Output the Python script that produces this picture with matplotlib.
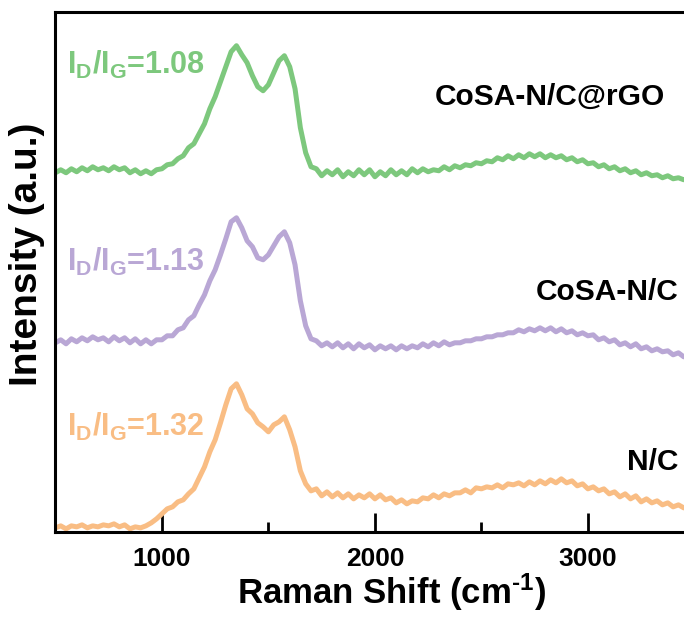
import numpy as np
import matplotlib
matplotlib.use('Agg')
import matplotlib.pyplot as plt
from matplotlib.ticker import MultipleLocator

plt.rcParams['font.family'] = ['Liberation Sans', 'DejaVu Sans']
plt.rcParams['font.weight'] = 'bold'
plt.rcParams['mathtext.fontset'] = 'custom'
plt.rcParams['mathtext.rm'] = 'Liberation Sans:bold'
plt.rcParams['mathtext.it'] = 'Liberation Sans:bold'
plt.rcParams['mathtext.bf'] = 'Liberation Sans:bold'

# Raman spectra sampled every 25 cm-1 from 500, already stacked with offsets
start, step = 500, 25

rgo = [359, 362, 359, 363, 360, 364, 361, 365, 362, 364, 361, 365, 362, 364, 359, 362, 358, 361, 358, 362,
       363, 367, 368, 373, 376, 384, 388, 398, 408, 423, 435, 450, 465, 480, 486, 477, 469, 456, 445, 441,
       447, 459, 471, 476, 465, 443, 404, 379, 365, 363, 356, 361, 357, 362, 355, 360, 356, 362, 357, 362,
       355, 360, 356, 362, 357, 361, 357, 363, 359, 363, 360, 362, 361, 365, 362, 366, 364, 367, 366, 369,
       368, 371, 370, 374, 372, 376, 373, 377, 374, 378, 375, 378, 374, 377, 374, 376, 372, 374, 370, 372,
       368, 369, 365, 367, 363, 365, 361, 363, 359, 361, 357, 359, 356, 357, 354, 356, 353, 354, 352, 353]

cosa = [189, 192, 188, 193, 190, 194, 191, 195, 192, 194, 190, 195, 191, 194, 189, 193, 188, 192, 188, 192,
        192, 196, 196, 202, 204, 212, 216, 227, 237, 251, 262, 277, 293, 310, 314, 304, 291, 285, 274, 272,
        277, 286, 295, 300, 289, 267, 231, 206, 193, 191, 186, 189, 185, 189, 184, 188, 183, 188, 184, 187,
        182, 186, 183, 186, 182, 186, 183, 186, 184, 188, 185, 189, 186, 190, 187, 189, 189, 191, 191, 193,
        193, 195, 195, 197, 197, 199, 199, 202, 200, 203, 201, 204, 201, 204, 200, 203, 199, 201, 197, 199,
        196, 197, 192, 194, 190, 192, 187, 189, 185, 188, 183, 185, 181, 183, 180, 181, 177, 179, 175, 176]

nc = [4, 6, 3, 6, 5, 7, 4, 6, 5, 7, 6, 8, 5, 7, 3, 5, 4, 6, 9, 13,
      18, 23, 25, 30, 32, 38, 43, 54, 65, 80, 92, 109, 127, 143, 148, 137, 123, 118, 109, 105,
      100, 107, 110, 115, 102, 85, 61, 48, 41, 43, 36, 40, 35, 39, 34, 38, 33, 37, 34, 38,
      33, 37, 32, 34, 29, 32, 28, 31, 30, 34, 33, 37, 34, 38, 36, 39, 39, 42, 39, 44,
      43, 45, 44, 47, 44, 48, 47, 49, 46, 50, 47, 51, 48, 52, 49, 53, 49, 51, 46, 48,
      43, 45, 41, 43, 38, 40, 35, 38, 33, 36, 30, 33, 29, 31, 27, 29, 25, 27, 24, 25]

names = ['CoSA-N/C@rGO', 'CoSA-N/C', 'N/C']
ratios = ['1.08', '1.13', '1.32']
colors = ['#7dc87d', '#b9a7d5', '#f9bd84']
ratio_y = [467, 270, 105]
name_pos = [(3362, 435), (3423, 240), (3423, 70)]

fig = plt.figure(figsize=(6.84, 6.17), dpi=100)
ax = fig.add_axes([0.081, 0.138, 0.928, 0.843])

for y, c in zip([rgo, cosa, nc], colors):
    x = start + step * np.arange(len(y))
    ax.plot(x, y, color=c, lw=3.6, solid_joinstyle='round')

for name, r, c, ry, (nx, ny) in zip(names, ratios, colors, ratio_y, name_pos):
    ax.text(554, ry, r'I$_\mathrm{D}$/I$_\mathrm{G}$=' + r, color=c,
            fontsize=22, fontweight='bold', va='center', ha='left')
    ax.text(nx, ny, name, color='black', fontsize=21.5, fontweight='bold',
            va='center', ha='right')

ax.set_xlim(500, 3480)
ax.set_ylim(0, 520)
ax.set_yticks([])
ax.xaxis.set_major_locator(MultipleLocator(1000))
ax.xaxis.set_minor_locator(MultipleLocator(500))
ax.tick_params(axis='x', which='major', direction='in', length=14, width=2,
               labelsize=19, pad=11)
ax.tick_params(axis='x', which='minor', direction='in', length=7, width=2)
for s in ax.spines.values():
    s.set_linewidth(2.2)

ax.set_xlabel(r'Raman Shift (cm$^{\text{-}1}$)', fontsize=25, fontweight='bold')
ax.set_ylabel('Intensity (a.u.)', fontsize=28, fontweight='bold')
ax.xaxis.set_label_coords(0.529, -0.076)
ax.yaxis.set_label_coords(-0.017, 0.533)

fig.savefig('out.png', dpi=100)
